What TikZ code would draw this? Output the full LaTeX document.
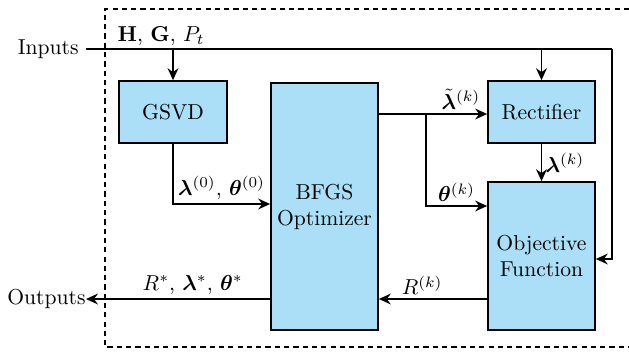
\documentclass[tikz,border=0pt]{standalone}
\usepackage{amsmath,bm}
\usetikzlibrary{arrows.meta}
\definecolor{boxblue}{RGB}{171,223,248}
\begin{document}
\begin{tikzpicture}[x=0.4626pt,y=-0.4626pt,
  blk/.style={draw=black, fill=boxblue, line width=0.8pt, inner sep=0pt, align=center},
  conn/.style={line width=0.8pt, -{Stealth[length=5.5pt,width=5pt,inset=1.8pt]}},
  wire/.style={line width=0.8pt},
  lbl/.style={inner sep=1.5pt}]
\useasboundingbox (0,0) rectangle (629,351);
% frame
\draw[dash pattern=on 2.4pt off 1.9pt, line width=0.6pt] (629,9) -- (105,9) -- (105,347) -- (629,347);
% blocks
\node[blk, minimum width=108*0.4626pt, minimum height=62*0.4626pt] (gsvd) at (173,112) {GSVD};
\node[blk, minimum width=107*0.4626pt, minimum height=247*0.4626pt] (bfgs) at (324.5,206.5) {BFGS\\Optimizer};
\node[blk, minimum width=107*0.4626pt, minimum height=62*0.4626pt] (rect) at (541.5,112) {Rectifier};
\node[blk, minimum width=107*0.4626pt, minimum height=148*0.4626pt] (obj) at (541.5,256) {Objective\\Function};
% text nodes
\node[anchor=east, inner sep=0pt] (inp) at (79,49) {Inputs};
\node[anchor=east, inner sep=0pt] (outp) at (86,299) {Outputs};
\coordinate (inst) at (86,49);
\coordinate (corner) at (612,49);
\coordinate (br) at (426,114);
% inputs
\draw[wire] (inst) -- (corner);
\draw[conn] (corner) |- (obj.east |- 0,259);
\draw[conn] (gsvd.north |- inst) -- (gsvd.north);
\draw[conn] (rect.north |- inst) -- (rect.north);
\node[lbl, anchor=south west] (hg) at (114,49) {$\mathbf{H}$, $\mathbf{G}$, $P_t$};
% gsvd to bfgs
\draw[conn] (gsvd.south) |- (bfgs.west |- 0,204) node[lbl, pos=0.75, anchor=south] (l0) {$\bm{\lambda}^{(0)}$, $\bm{\theta}^{(0)}$};
% bfgs to rectifier
\draw[conn] (bfgs.east |- 0,114) -- (rect.west |- 0,114);
\node[lbl, anchor=south, inner sep=2pt] (lt) at (461,114) {$\tilde{\bm{\lambda}}^{(k)}$};
\draw[conn] (br) |- (obj.west |- 0,206) node[lbl, pos=0.75, anchor=south] (th) {$\bm{\theta}^{(k)}$};
% rectifier to objective
\draw[conn] (rect.south) -- (obj.north) node[lbl, midway, anchor=west] (lk) {$\bm{\lambda}^{(k)}$};
% objective to bfgs
\draw[conn] (obj.west |- 0,299) -- (bfgs.east |- 0,299) node[lbl, pos=0.6, anchor=south] (rk) {$R^{(k)}$};
% outputs
\draw[conn] (bfgs.west |- 0,299) -- (outp.east) node[lbl, pos=0.42, anchor=south] (ro) {$R^{*}$, $\bm{\lambda}^{*}$, $\bm{\theta}^{*}$};
\end{tikzpicture}
\end{document}
